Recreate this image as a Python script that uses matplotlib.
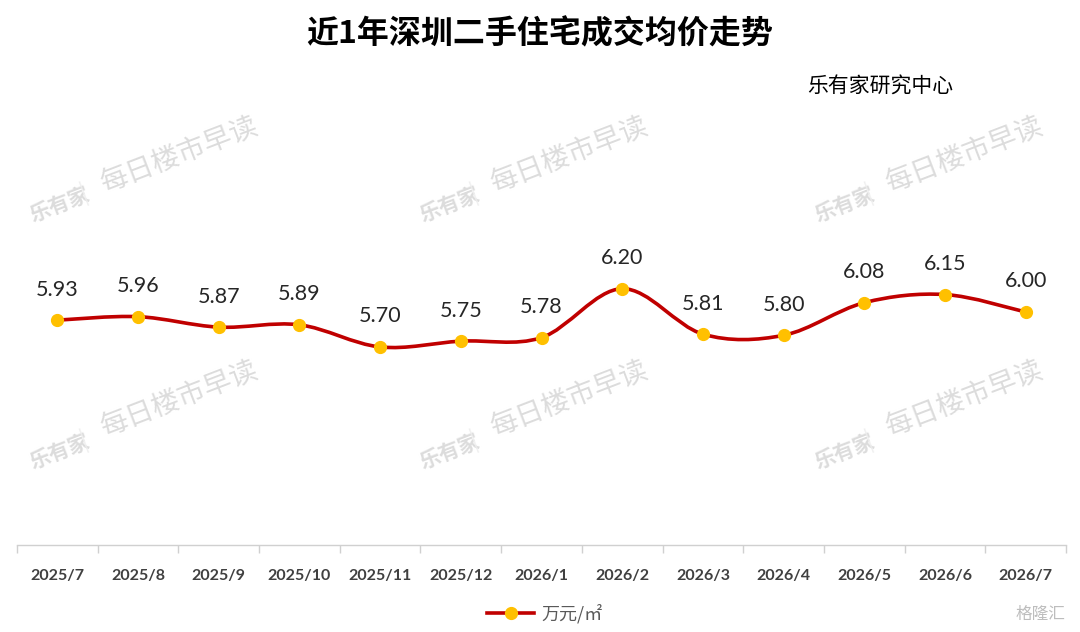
import matplotlib
matplotlib.use("Agg")
import matplotlib.pyplot as plt
from matplotlib.path import Path
from matplotlib.patches import PathPatch
from matplotlib.lines import Line2D

plt.rcParams['font.family'] = ['Noto Sans CJK SC', 'DejaVu Sans']

months = ["2025/7", "2025/8", "2025/9", "2025/10", "2025/11", "2025/12", "2026/1",
          "2026/2", "2026/3", "2026/4", "2026/5", "2026/6", "2026/7"]
prices = [5.93, 5.96, 5.87, 5.89, 5.70, 5.75, 5.78, 6.20, 5.81, 5.80, 6.08, 6.15, 6.00]
title = "近1年深圳二手住宅成交均价走势"
source = "乐有家研究中心"
series_name = "万元/㎡"

LINE = "#C00000"
MARK = "#FFC000"

fig = plt.figure(figsize=(10.8, 6.32), dpi=100)
ax = fig.add_axes([17/1080, 87/632, (1066-17)/1080, (545-79)/632])
ax.set_xlim(-0.5, len(months) - 0.5)
ax.set_ylim(4.0, 8.0)

# watermarks
wm_col = "#dcdcdc"
for dx in [0, 390, 785]:
    for (by, my) in [(205, 156), (452, 400)]:
        fig.text((60 + dx) / 1080, 1 - by / 632, "乐有家", fontsize=15, fontweight='bold',
                 color=wm_col, rotation=21, ha='center', va='center', zorder=0)
        fig.text((84 + dx) / 1080, 1 - (by - 12) / 632, "|", fontsize=16,
                 color="#eeeeee", rotation=21, ha='center', va='center', zorder=0)
        fig.text((180 + dx) / 1080, 1 - my / 632, "每日楼市早读", fontsize=20,
                 color=wm_col, rotation=21, ha='center', va='center', zorder=0)

# smoothed line (Bezier through data points)
x = list(range(len(prices)))
pts = list(zip(x, prices))
verts = [pts[0]]
codes = [Path.MOVETO]
n = len(pts)
for i in range(n - 1):
    p0 = pts[i - 1] if i > 0 else pts[i]
    p1 = pts[i]
    p2 = pts[i + 1]
    p3 = pts[i + 2] if i + 2 < n else pts[i + 1]
    c1 = (p1[0] + (p2[0] - p0[0]) / 6, p1[1] + (p2[1] - p0[1]) / 6)
    c2 = (p2[0] - (p3[0] - p1[0]) / 6, p2[1] - (p3[1] - p1[1]) / 6)
    verts += [c1, c2, p2]
    codes += [Path.CURVE4] * 3
ax.add_patch(PathPatch(Path(verts, codes), facecolor='none', edgecolor=LINE,
                       lw=2.6, zorder=2, capstyle='round', joinstyle='round'))
ax.plot(x, prices, linestyle='none', marker='o', markersize=8.5,
        markerfacecolor=MARK, markeredgecolor=MARK, zorder=3)

for xi, v in zip(x, prices):
    ax.annotate(f"{v:.2f}", (xi, v), xytext=(0, 22), textcoords='offset points',
                ha='center', va='center', fontsize=15.5, color="#262626",
                family=['Lato', 'DejaVu Sans'])

for s in ['top', 'left', 'right']:
    ax.spines[s].set_visible(False)
ax.spines['bottom'].set_color('#d0d0d0')
ax.spines['bottom'].set_linewidth(1.0)
ax.set_yticks([])
ax.set_xticks(x)
ax.set_xticklabels(months, fontsize=11.5, color="#404040", fontweight='bold',
                   family=['Lato', 'DejaVu Sans'])
ax.tick_params(axis='x', which='major', length=0, pad=17)
ax.set_xticks([i - 0.5 for i in range(len(months) + 1)], minor=True)
ax.tick_params(axis='x', which='minor', length=6, color='#d0d0d0', width=1.0)

fig.text(540 / 1080, 1 - 34 / 632, title, fontsize=23, fontweight='bold',
         ha='center', va='center', color='#000000')
fig.text(880 / 1080, 1 - 87 / 632, source, fontsize=15, ha='center', va='center',
         color='#000000')

handle = Line2D([], [], color=LINE, lw=2.6, marker='o', markersize=8.5,
                markerfacecolor=MARK, markeredgecolor=MARK)
fig.legend([handle], [series_name], loc='center', bbox_to_anchor=(545 / 1080, 1 - 614 / 632),
           frameon=False, fontsize=13, labelcolor='#595959', handlelength=2.6,
           handletextpad=0.4)

fig.text(1040 / 1080, 1 - 614 / 632, "格隆汇", fontsize=12, ha='center', va='center',
         color='#bdbdbd')

fig.savefig("out.png", dpi=100, facecolor='white')
